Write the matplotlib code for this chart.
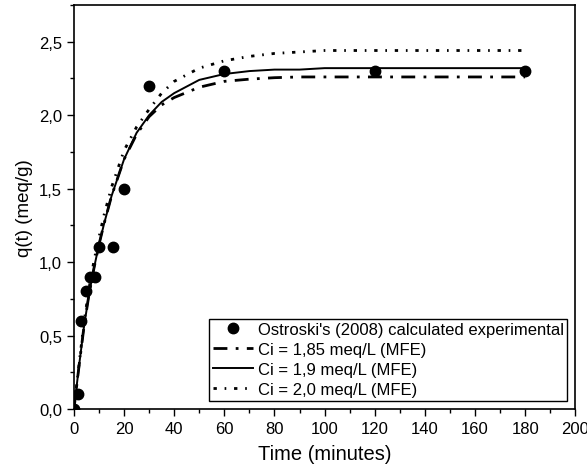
import numpy as np
import matplotlib
matplotlib.use('Agg')
import matplotlib.pyplot as plt
from matplotlib.ticker import MultipleLocator, FuncFormatter

plt.rcParams['font.family'] = ['Liberation Sans', 'DejaVu Sans']

# experimental points
t_exp = [0, 1.5, 3, 5, 6.5, 8.5, 10, 15.5, 20, 30, 60, 120, 180]
q_exp = [0.0, 0.1, 0.6, 0.8, 0.9, 0.9, 1.1, 1.1, 1.5, 2.2, 2.3, 2.3, 2.3]

# model curves
t_mod = [0, 2, 4, 6, 8, 10, 12, 15, 20, 25, 30, 35, 40, 50, 60, 70, 80, 90, 100, 120, 140, 160, 180]
q_185 = [0.0, 0.29, 0.56, 0.78, 0.96, 1.12, 1.26, 1.45, 1.70, 1.87, 1.99, 2.07, 2.12, 2.19, 2.23, 2.245, 2.255, 2.26, 2.26, 2.26, 2.26, 2.26, 2.26]
q_19 = [0.0, 0.29, 0.56, 0.78, 0.96, 1.12, 1.26, 1.45, 1.70, 1.88, 2.00, 2.09, 2.15, 2.24, 2.28, 2.30, 2.31, 2.31, 2.32, 2.32, 2.32, 2.32, 2.32]
q_20 = [0.0, 0.30, 0.59, 0.82, 1.01, 1.17, 1.32, 1.51, 1.76, 1.92, 2.04, 2.15, 2.23, 2.32, 2.37, 2.40, 2.42, 2.43, 2.44, 2.44, 2.44, 2.44, 2.44]

fig = plt.figure(figsize=(5.87, 4.77), dpi=100)
ax = fig.add_axes([0.126, 0.1405, 0.854, 0.847])

ax.plot(t_exp, q_exp, 'o', color='black', markersize=7.5,
        label="Ostroski's (2008) calculated experimental", zorder=5)
ax.plot(t_mod, q_185, color='black', lw=2.0, dashes=(5, 3, 1, 3),
        label='Ci = 1,85 meq/L (MFE)')
ax.plot(t_mod, q_19, color='black', lw=1.4, label='Ci = 1,9 meq/L (MFE)')
ax.plot(t_mod, q_20, color='black', lw=2.0, dashes=(1.2, 2.8, 0.6, 2.8),
        label='Ci = 2,0 meq/L (MFE)')

ax.set_xlim(0, 200)
ax.set_ylim(0, 2.75)
ax.xaxis.set_major_locator(MultipleLocator(20))
ax.xaxis.set_minor_locator(MultipleLocator(10))
ax.yaxis.set_major_locator(MultipleLocator(0.5))
ax.yaxis.set_minor_locator(MultipleLocator(0.25))
ax.yaxis.set_major_formatter(FuncFormatter(lambda v, p: ('%.1f' % v).replace('.', ',')))
ax.tick_params(which='major', direction='out', length=5, width=1, labelsize=12)
ax.tick_params(which='minor', direction='out', length=3, width=1)
for s in ax.spines.values():
    s.set_linewidth(1.2)

ax.set_xlabel('Time (minutes)', fontsize=14.5, labelpad=6)
ax.set_ylabel('q(t) (meq/g)', fontsize=13.5)

leg = ax.legend(loc='lower right', fontsize=12, frameon=True, fancybox=False,
                edgecolor='black', framealpha=1, borderpad=0.2, labelspacing=0.3,
                handlelength=2.4, handletextpad=0.3, borderaxespad=0.5)
leg.get_frame().set_linewidth(1.0)

fig.savefig('out.png', dpi=100)
